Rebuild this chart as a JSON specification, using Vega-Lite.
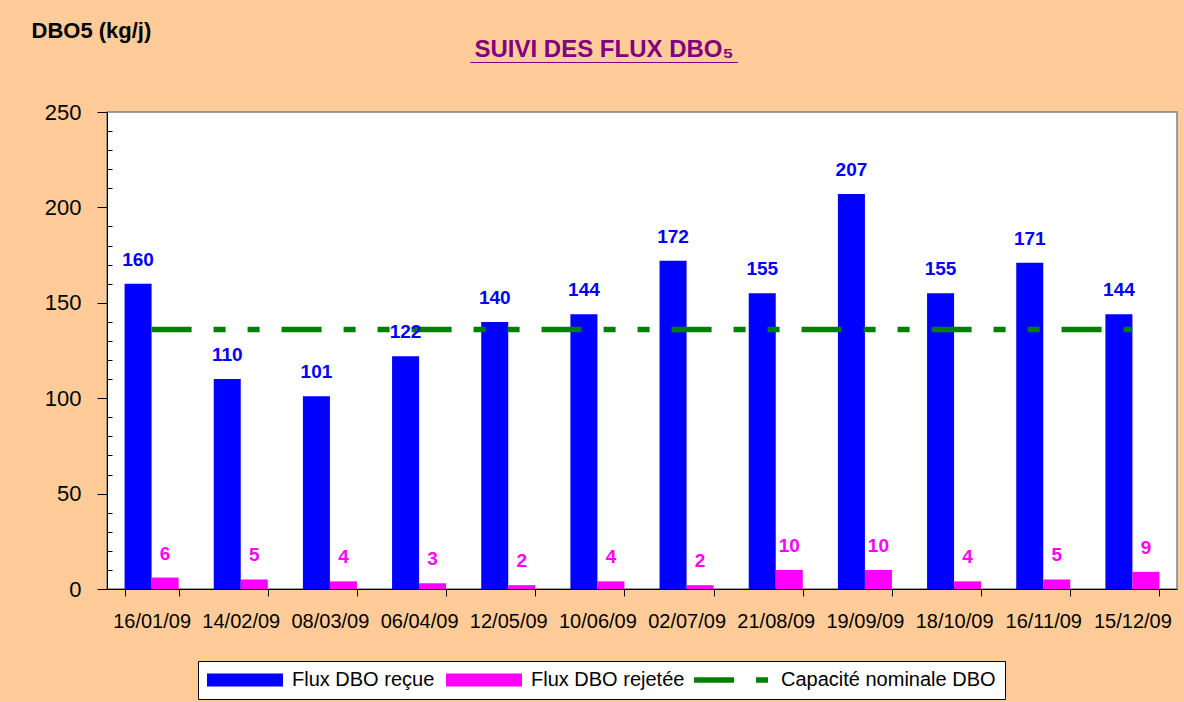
{
  "$schema": "https://vega.github.io/schema/vega-lite/v6.json",
  "width": 1070,
  "height": 477,
  "autosize": "none",
  "padding": {"left": 107, "top": 112, "right": 7, "bottom": 113},
  "background": "#FFCC99",
  "config": {
    "font": "Liberation Sans",
    "view": {"fill": "white", "stroke": "#808080", "strokeWidth": 1.5},
    "legend": {
      "title": null,
      "orient": "none",
      "legendY": 549,
      "direction": "horizontal",
      "padding": 9,
      "labelFontSize": 20,
      "labelColor": "black",
      "labelFont": "Liberation Sans",
      "labelLimit": 400,
      "symbolSize": 100,
      "symbolOffset": 28,
      "labelOffset": 37,
      "columnPadding": 11
    }
  },
  "title": {
    "text": "SUIVI DES FLUX DBO₅",
    "subtitle": "____________________",
    "color": "#800080",
    "subtitleColor": "#800080",
    "font": "Liberation Sans",
    "subtitleFont": "Liberation Sans",
    "fontSize": 24,
    "subtitleFontSize": 24,
    "fontWeight": "bold",
    "subtitleFontWeight": "bold",
    "subtitlePadding": -21,
    "anchor": "middle",
    "frame": "group",
    "dx": -38,
    "dy": 46,
    "offset": 0
  },
  "data": {
    "values": [
      {"date": "16/01/09", "series": "Flux DBO reçue", "value": 160},
      {"date": "14/02/09", "series": "Flux DBO reçue", "value": 110},
      {"date": "08/03/09", "series": "Flux DBO reçue", "value": 101},
      {"date": "06/04/09", "series": "Flux DBO reçue", "value": 122},
      {"date": "12/05/09", "series": "Flux DBO reçue", "value": 140},
      {"date": "10/06/09", "series": "Flux DBO reçue", "value": 144},
      {"date": "02/07/09", "series": "Flux DBO reçue", "value": 172},
      {"date": "21/08/09", "series": "Flux DBO reçue", "value": 155},
      {"date": "19/09/09", "series": "Flux DBO reçue", "value": 207},
      {"date": "18/10/09", "series": "Flux DBO reçue", "value": 155},
      {"date": "16/11/09", "series": "Flux DBO reçue", "value": 171},
      {"date": "15/12/09", "series": "Flux DBO reçue", "value": 144},
      {"date": "16/01/09", "series": "Flux DBO rejetée", "value": 6},
      {"date": "14/02/09", "series": "Flux DBO rejetée", "value": 5},
      {"date": "08/03/09", "series": "Flux DBO rejetée", "value": 4},
      {"date": "06/04/09", "series": "Flux DBO rejetée", "value": 3},
      {"date": "12/05/09", "series": "Flux DBO rejetée", "value": 2},
      {"date": "10/06/09", "series": "Flux DBO rejetée", "value": 4},
      {"date": "02/07/09", "series": "Flux DBO rejetée", "value": 2},
      {"date": "21/08/09", "series": "Flux DBO rejetée", "value": 10},
      {"date": "19/09/09", "series": "Flux DBO rejetée", "value": 10},
      {"date": "18/10/09", "series": "Flux DBO rejetée", "value": 4},
      {"date": "16/11/09", "series": "Flux DBO rejetée", "value": 5},
      {"date": "15/12/09", "series": "Flux DBO rejetée", "value": 9},
      {"date": "16/01/09", "series": "Capacité nominale DBO", "value": 136},
      {"date": "14/02/09", "series": "Capacité nominale DBO", "value": 136},
      {"date": "08/03/09", "series": "Capacité nominale DBO", "value": 136},
      {"date": "06/04/09", "series": "Capacité nominale DBO", "value": 136},
      {"date": "12/05/09", "series": "Capacité nominale DBO", "value": 136},
      {"date": "10/06/09", "series": "Capacité nominale DBO", "value": 136},
      {"date": "02/07/09", "series": "Capacité nominale DBO", "value": 136},
      {"date": "21/08/09", "series": "Capacité nominale DBO", "value": 136},
      {"date": "19/09/09", "series": "Capacité nominale DBO", "value": 136},
      {"date": "18/10/09", "series": "Capacité nominale DBO", "value": 136},
      {"date": "16/11/09", "series": "Capacité nominale DBO", "value": 136},
      {"date": "15/12/09", "series": "Capacité nominale DBO", "value": 136}
    ]
  },
  "encoding": {
    "x": {
      "field": "date",
      "type": "nominal",
      "sort": null,
      "scale": {"paddingInner": 0.394, "paddingOuter": 0.197},
      "axis": {
        "title": null,
        "labelAngle": 0,
        "labelFontSize": 20,
        "labelColor": "black",
        "labelPadding": 15,
        "tickSize": 7,
        "tickBand": "extent",
        "tickColor": "black",
        "domainColor": "black",
        "zindex": 1
      }
    },
    "y": {
      "field": "value",
      "type": "quantitative",
      "scale": {"domain": [0, 250], "nice": false},
      "axis": {
        "values": [0, 10, 20, 30, 40, 50, 60, 70, 80, 90, 100, 110, 120, 130, 140, 150, 160, 170, 180, 190, 200, 210, 220, 230, 240, 250],
        "labelExpr": "datum.value % 50 === 0 ? datum.label : ''",
        "tickSize": {"condition": {"test": "datum.value % 50 === 0", "value": 10}, "value": -5},
        "grid": false,
        "domainColor": "black",
        "tickColor": "black",
        "labelFontSize": 22,
        "labelColor": "black",
        "labelPadding": 16,
        "title": "DBO5 (kg/j)",
        "titleAngle": 0,
        "titleX": -76,
        "titleY": -75,
        "titleAlign": "left",
        "titleBaseline": "alphabetic",
        "titleFontSize": 22,
        "titleFontWeight": "bold",
        "titleColor": "black",
        "zindex": 1
      }
    }
  },
  "layer": [
    {
      "transform": [{"filter": "datum.series !== 'Capacité nominale DBO'"}],
      "mark": {"type": "bar", "stroke": null},
      "encoding": {
        "xOffset": {"field": "series", "type": "nominal", "sort": ["Flux DBO reçue", "Flux DBO rejetée"], "scale": {"paddingInner": 0, "paddingOuter": 0}},
        "y": {"field": "value", "type": "quantitative", "stack": null},
        "color": {
          "field": "series",
          "type": "nominal",
          "scale": {"domain": ["Flux DBO reçue", "Flux DBO rejetée", "Capacité nominale DBO"], "range": ["#0000FF", "#FF00FF", "#FFFFFF"]},
          "legend": {
            "legendX": 91,
            "fillColor": "white",
            "strokeColor": "black",
            "symbolType": "M-7.6,-1.3H7.6V1.3H-7.6Z"
          }
        }
      }
    },
    {
      "transform": [{"filter": "datum.series === 'Capacité nominale DBO'"}],
      "mark": {"type": "line", "strokeWidth": 5.5, "strokeDash": [40, 22, 12, 22, 12, 22], "strokeCap": "butt"},
      "encoding": {
        "y": {"field": "value", "type": "quantitative", "stack": null},
        "stroke": {
          "field": "series",
          "type": "nominal",
          "scale": {"domain": ["Capacité nominale DBO"], "range": ["#008000"]},
          "legend": {
            "legendX": 578,
            "fillColor": "transparent",
            "strokeColor": "transparent",
            "labelExpr": "''",
            "symbolType": "M-7.6,0H7.6",
            "symbolStrokeWidth": 5.5,
            "symbolDash": [40, 22, 12, 22],
            "symbolOpacity": 1
          }
        }
      }
    },
    {
      "transform": [{"filter": "datum.series !== 'Capacité nominale DBO'"}],
      "mark": {"type": "text", "fontSize": 19, "fontWeight": "bold", "baseline": "alphabetic", "dy": -18, "font": "Liberation Sans"},
      "encoding": {
        "xOffset": {"field": "series", "type": "nominal", "sort": ["Flux DBO reçue", "Flux DBO rejetée"]},
        "y": {"field": "value", "type": "quantitative", "stack": null},
        "text": {"field": "value", "type": "quantitative"},
        "color": {"condition": {"test": "datum.series === 'Flux DBO reçue'", "value": "#0000FF"}, "value": "#FF00FF"}
      }
    }
  ]
}
